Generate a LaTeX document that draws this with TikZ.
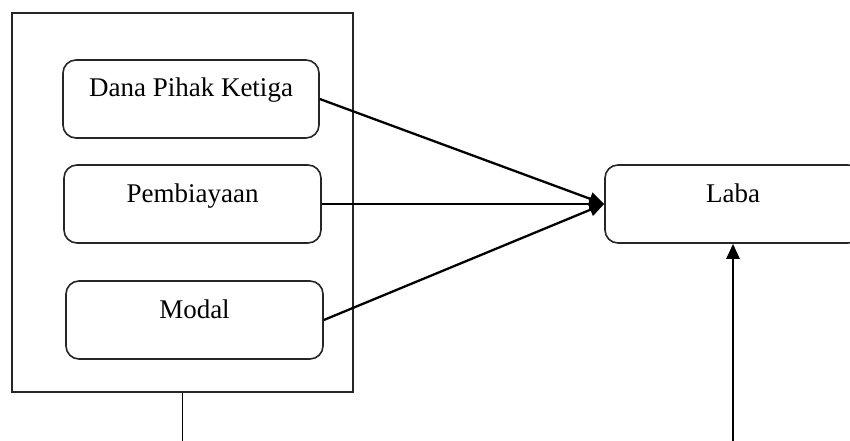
\documentclass[tikz,border=0pt]{standalone}
\usepackage{fontspec}
\setmainfont{Liberation Serif}
\usetikzlibrary{arrows.meta}
\begin{document}
\begin{tikzpicture}[x=1pt,y=-1pt,
  varbox/.style={draw=black!85, line width=1.6pt, rounded corners=13pt, minimum width=256pt, minimum height=78pt, inner sep=0pt, font=\fontsize{27}{32}\selectfont, text height=18pt, text depth=22pt},
  outerbox/.style={draw=black!85, line width=1.6pt, minimum width=341pt, minimum height=379pt, inner sep=0pt},
  conn/.style={line width=2.3pt, -{Triangle[length=15pt,width=13pt]}},
  plain/.style={line width=1.8pt}]
\path[use as bounding box, clip] (0,0) rectangle (850,441);
\node[outerbox] (outer) at (182.5,202.5) {};
\node[varbox] (dpk) at (191,99) {Dana Pihak Ketiga};
\node[varbox, minimum width=257pt] (pemb) at (192.5,204) {Pembiayaan};
\node[varbox, minimum width=257pt] (modal) at (194.5,320) {Modal};
\node[varbox] (laba) at (733,204) {Laba};
\coordinate (b1) at (182.5,445);
\coordinate (b2) at (733,445);
\draw[conn] (dpk.east) -- (laba.west);
\draw[conn] (pemb.east) -- (laba.west);
\draw[conn] (modal.east) -- (laba.west);
\draw[plain] (outer.south) -- (b1);
\draw[conn] (b2) -- (laba.south);
\end{tikzpicture}
\end{document}
